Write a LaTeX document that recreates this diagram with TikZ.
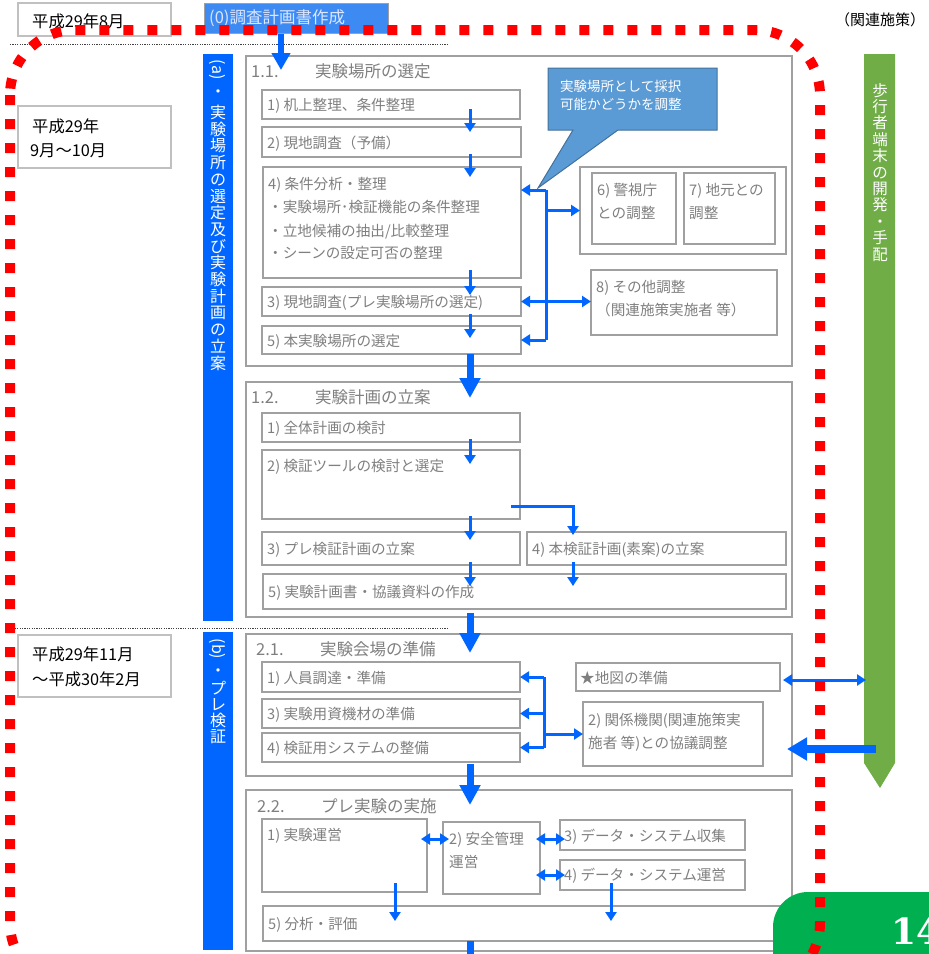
\documentclass[tikz,border=0pt]{standalone}
\usepackage{fontspec}
\setmainfont{Noto Sans CJK JP}
\newfontfamily\numfont{DejaVu Serif}
\usetikzlibrary{arrows.meta,fit,calc}
\definecolor{abl}{HTML}{0066FF}
\definecolor{topbl}{HTML}{3D8BF2}
\definecolor{toptx}{HTML}{DDE6FF}
\definecolor{gtxt}{HTML}{7F7F7F}
\definecolor{gbd}{HTML}{A0A0A0}
\definecolor{dbd}{HTML}{C0C0C0}
\definecolor{callf}{HTML}{5B9BD5}
\definecolor{calld}{HTML}{41719C}
\definecolor{gbar}{HTML}{70AD47}
\definecolor{gbx}{HTML}{00B050}
\definecolor{rdot}{HTML}{FF0000}
\begin{document}
\begin{tikzpicture}[x=1pt,y=-1pt,
  gb/.style={draw=gbd,line width=1.3pt,inner sep=0pt,outer sep=0pt},
  db/.style={draw=dbd,line width=1.2pt,inner sep=0pt,outer sep=0pt},
  tx/.style={text=gtxt,font=\fontsize{14.6}{16}\selectfont,inner sep=0pt,anchor=west,text height=12.8pt,text depth=1.8pt},
  ttl/.style={text=gtxt,font=\fontsize{16.5}{18}\selectfont,inner sep=0pt,anchor=west,text height=14.5pt,text depth=2pt},
  dt/.style={text=black,font=\fontsize{16.3}{18}\selectfont,inner sep=0pt,anchor=west,text height=14.3pt,text depth=2pt},
  vt/.style={text=white,font=\fontsize{16}{16}\selectfont,inner sep=0pt,text height=14pt,text depth=2pt},
  ta/.style={draw=abl,line width=3pt,-{Triangle[length=9pt,width=11pt]}},
  tda/.style={draw=abl,line width=3pt,{Triangle[length=9pt,width=11pt]}-{Triangle[length=9pt,width=11pt]}},
  tl/.style={draw=abl,line width=3pt},
  bigarr/.style={draw=abl,line width=7pt,-{Triangle[length=20pt,width=20pt]}},
]
\useasboundingbox (0,0) rectangle (929,954);
\clip (0,0) rectangle (929,954);

% ---------- header ----------
\node[db,fit={(18,3) (171,36)}] (d1) {};
\node[dt] (d1t) at (32,21) {平成29年8月};
\node[draw=gbd,line width=1pt,fill=topbl,inner sep=0pt,fit={(204,3) (388,33)}] (top0) {};
\node[tx,text=toptx,font=\fontsize{16.5}{18}\selectfont] (top0t) at (209,18) {(0)調査計画書作成};
\node[dt,font=\fontsize{15}{17}\selectfont] (rel) at (835,19) {（関連施策）};
\draw[black!75,line width=0.8pt,dash pattern=on 1.2pt off 1.2pt] (10,44) -- (448,44);
\draw[black!75,line width=0.8pt,dash pattern=on 1.2pt off 1.2pt] (10,628) -- (448,628);

% date boxes
\node[db,fit={(18,106) (171,168)}] (d2) {};
\node[dt] (d2a) at (32,126) {平成29年};
\node[dt] (d2b) at (30,150) {9月～10月};
\node[db,fit={(18,635) (171,697)}] (d3) {};
\node[dt] (d3a) at (32,654) {平成29年11月};
\node[dt] (d3b) at (32,679) {～平成30年2月};

% ---------- vertical bars ----------
\fill[abl] (203,54) rectangle (233,621);
\node[vt,rotate=-90] (alab) at (218,69.5) {(a)};
\node[vt] (adot) at (218,91) {・};
\foreach \c [count=\i] in {実,験,場,所,の,選,定,及,び,実,験,計,画,の,立,案}
  \node[vt] (va\i) at (218,{112.5+16.7*(\i-1)}) {\c};
\fill[abl] (203,632) rectangle (233,950);
\node[vt,rotate=-90] (blab) at (218,649) {(b)};
\node[vt] (bdot) at (218,670) {・};
\foreach \c [count=\i] in {プ,レ,検,証}
  \node[vt] (vb\i) at (218,{688+16.3*(\i-1)}) {\c};

% green bar
\fill[gbar] (864,54) -- (895,54) -- (895,763) -- (880,788) -- (864,763) -- cycle;
\foreach \c [count=\i] in {歩,行,者,端,末,の,開,発,・,手,配}
  \node[vt,font=\fontsize{15.5}{16}\selectfont] (vg\i) at (880,{90+16.4*(\i-1)}) {\c};

\coordinate (ax) at (470,0);

% ---------- 1.1 ----------
\node[gb,fit={(246,56) (792,366)}] (b11) {};
\node[ttl] (t11) at (251,71) {\makebox[64pt][l]{1.1.}実験場所の選定};
\node[gb,fit={(262,90) (520,119)}] (s1a) {};
\node[tx] at (267,105) {1) 机上整理、条件整理};
\node[gb,fit={(262,127) (521,157)}] (s1b) {};
\node[tx] at (267,143) {2) 現地調査（予備）};
\node[gb,fit={(263,167) (521,278)}] (s1d) {};
\node[tx] at (268,184) {4) 条件分析・整理};
\node[tx] at (268,207) {・実験場所･検証機能の条件整理};
\node[tx] at (268,231) {・立地候補の抽出/比較整理};
\node[tx] at (268,253) {・シーンの設定可否の整理};
\node[gb,fit={(262,287) (521,316)}] (s1c) {};
\node[tx] at (267,302) {3) 現地調査(プレ実験場所の選定)};
\node[gb,fit={(262,326) (521,354)}] (s1e) {};
\node[tx] at (267,341) {5) 本実験場所の選定};

\node[gb,fit={(580,167) (786,254)}] (grp) {};
\node[gb,fit={(592,173) (676,244)}] (s16) {};
\node[tx] at (597,190) {6) 警視庁};
\node[tx] at (597,213) {との調整};
\node[gb,fit={(684,173) (775,244)}] (s17) {};
\node[tx] at (689,190) {7) 地元との};
\node[tx] at (689,213) {調整};
\node[gb,fit={(591,270) (777,335)}] (s18) {};
\node[tx] at (596,287) {8) その他調整};
\node[tx] at (596,310) {（関連施策実施者 等）};

% callout
\path[fill=callf,draw=calld,line width=1pt] (548,68) -- (717,68) -- (717,130) -- (618,130) -- (538,188) -- (573,130) -- (548,130) -- cycle;
\node[tx,text=white,font=\fontsize{13.5}{15}\selectfont,text height=11.8pt,text depth=1.7pt] (co1) at (560,86) {実験場所として採択};
\node[tx,text=white,font=\fontsize{13.5}{15}\selectfont,text height=11.8pt,text depth=1.7pt] (co2) at (560,104) {可能かどうかを調整};

% arrows 1.1
\draw[ta] ([yshift=10pt]s1a.south -| ax) -- ([yshift=-5pt]s1b.north -| ax);
\draw[ta] ([yshift=3pt]s1b.south -| ax) -- ([yshift=-10pt]s1d.north -| ax);
\draw[ta] ([yshift=8pt]s1d.south -| ax) -- ([yshift=-8pt]s1c.north -| ax);
\draw[ta] ([yshift=2pt]s1c.south -| ax) -- ([yshift=-12pt]s1e.north -| ax);
\coordinate (br1t) at (546,190);
\draw[tl] (br1t) -- (s1e.east -| br1t);
\draw[ta] (br1t) -- (br1t -| s1d.east);
\draw[ta] (s1e.east -| br1t) -- (s1e.east);
\draw[tda] (s1c.east) -- (s1c.east -| s18.west);
\draw[ta] (grp.west -| br1t) -- (grp.west);

% top arrow
\coordinate (tx0) at (281,0);
\draw[draw=abl,line width=6pt,-{Triangle[length=17pt,width=18pt]}] (top0.south -| tx0) -- ([yshift=-14pt]b11.north -| tx0);

% ---------- 1.2 ----------
\node[gb,fit={(246,382) (792,617)}] (b12) {};
\node[ttl] (t12) at (251,397) {\makebox[64pt][l]{1.2.}実験計画の立案};
\node[gb,fit={(262,413) (520,442)}] (s2a) {};
\node[tx] at (267,428) {1) 全体計画の検討};
\node[gb,fit={(262,450) (520,519)}] (s2b) {};
\node[tx] at (267,466) {2) 検証ツールの検討と選定};
\node[gb,fit={(262,532) (520,565)}] (s2c) {};
\node[tx] at (267,549) {3) プレ検証計画の立案};
\node[gb,fit={(527,532) (786,565)}] (s2d) {};
\node[tx] at (532,549) {4) 本検証計画(素案)の立案};
\node[gb,fit={(263,574) (786,609)}] (s2e) {};
\node[tx] at (268,592) {5) 実験計画書・協議資料の作成};

\draw[ta] ([yshift=3pt]s2a.south -| ax) -- ([yshift=-14pt]s2b.north -| ax);
\draw[ta] ([yshift=3pt]s2b.south -| ax) -- ([yshift=-8pt]s2c.north -| ax);
\coordinate (lstart) at (511,506);
\coordinate (lx) at (573,0);
\draw[ta] (lstart) -| ([yshift=-3pt]s2d.north -| lx);
\draw[ta] ([yshift=3pt]s2c.south -| ax) -- ([yshift=-12pt]s2e.north -| ax);
\draw[ta] ([yshift=3pt]s2d.south -| lx) -- ([yshift=-12pt]s2e.north -| lx);

\draw[bigarr] (s1e.south -| ax) -- ([yshift=-16pt]b12.north -| ax);

% ---------- 2.1 ----------
\node[gb,fit={(246,634) (792,776)}] (b21) {};
\node[ttl] (t21) at (256,649) {\makebox[64pt][l]{2.1.}実験会場の準備};
\node[gb,fit={(262,662) (520,692)}] (s3a) {};
\node[tx] at (267,678) {1) 人員調達・準備};
\node[gb,fit={(262,699) (520,728)}] (s3c) {};
\node[tx] at (267,714) {3) 実験用資機材の準備};
\node[gb,fit={(262,733) (520,762)}] (s3d) {};
\node[tx] at (267,748) {4) 検証用システムの整備};
\node[gb,fit={(576,663) (780,691)}] (star) {};
\node[tx] at (580,678) {★地図の準備};
\node[gb,fit={(583,702) (763,766)}] (s3b) {};
\node[tx] at (588,720) {2) 関係機関(関連施策実};
\node[tx] at (588,743) {施者 等)との協議調整};

\coordinate (bx2) at (544,0);
\draw[tl] (s3a.east -| bx2) -- (s3d.east -| bx2);
\draw[ta] (s3a.east -| bx2) -- (s3a.east);
\draw[ta] (s3c.east -| bx2) -- (s3c.east);
\draw[ta] (s3d.east -| bx2) -- (s3d.east);
\draw[ta] (s3b.west -| bx2) -- (s3b.west);

\coordinate (gs) at (866,680);
\draw[tda] ([xshift=3pt]star.east |- gs) -- (gs);
\coordinate (ga) at (876,749);
\coordinate (gbend) at (787,749);
\draw[draw=abl,line width=8pt,-{Triangle[length=20pt,width=22pt]}] (ga) -- (gbend);

\draw[bigarr] ([yshift=4pt]b12.south -| ax) -- ([yshift=-19pt]b21.north -| ax);

% ---------- 2.2 ----------
\node[gb,fit={(246,790) (792,951)}] (b22) {};
\node[ttl] (t22) at (257,806) {\makebox[64pt][l]{2.2.}プレ実験の実施};
\node[gb,fit={(262,819) (427,892)}] (s4a) {};
\node[tx] at (267,835) {1) 実験運営};
\node[gb,fit={(443,822) (540,894)}] (s4b) {};
\node[tx] at (449,839) {2) 安全管理};
\node[tx] at (449,862) {運営};
\node[gb,fit={(560,820) (745,850)}] (s4c) {};
\node[tx] at (564,836) {3) データ・システム収集};
\node[gb,fit={(560,860) (745,890)}] (s4d) {};
\node[tx] at (564,875) {4) データ・システム運営};
\node[gb,fit={(263,906) (786,941)}] (s4e) {};
\node[tx] at (268,924) {5) 分析・評価};

\draw[tda] ([xshift=-6pt]s4a.east |- 0,839) -- ([xshift=6pt]s4b.west |- 0,839);
\draw[tda] ([xshift=-4pt]s4b.east |- 0,839) -- ([xshift=5pt]s4c.west |- 0,839);
\draw[tda] ([xshift=-4pt]s4b.east |- 0,875) -- ([xshift=5pt]s4d.west |- 0,875);
\draw[ta] ([yshift=9pt]s4a.south -| 395,0) -- ([yshift=-15pt]s4e.north -| 395,0);
\draw[ta] ([yshift=7pt]s4d.south -| 611,0) -- ([yshift=-15pt]s4e.north -| 611,0);

\draw[bigarr] ([yshift=12pt]b21.south -| ax) -- ([yshift=-15pt]b22.north -| ax);
\coordinate (bend) at (470,990);
\draw[bigarr] (s4e.south -| ax) -- (bend);

% page number box
\fill[gbx,rounded corners=35pt] (773,892) rectangle (1000,1100);
\node[text=white,font=\numfont\bfseries\fontsize{36}{40}\selectfont,inner sep=0pt,anchor=base west] (pg) at (891,944) {14};

% red dotted boundary
\draw[rdot,line width=10pt,dash pattern=on 10pt off 14pt,rounded corners=65pt] (10,30) rectangle (820,988);
\end{tikzpicture}
\end{document}
